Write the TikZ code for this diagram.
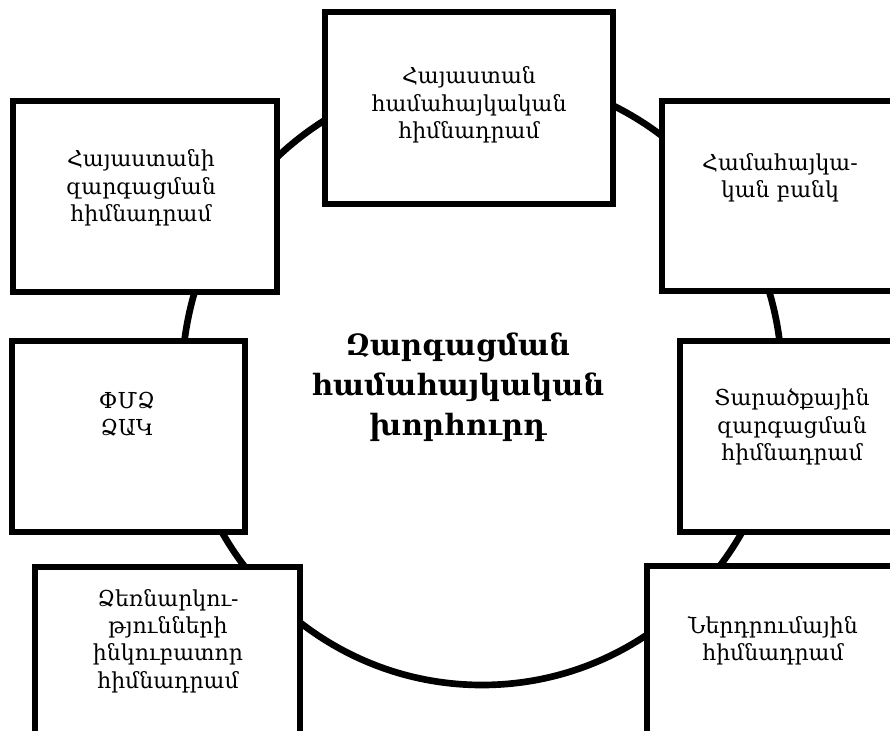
\documentclass[tikz,border=0pt]{standalone}
\usepackage{fontspec}
\setmainfont{DejaVu Serif}

\tikzset{
    box/.style={draw, line width=4.5pt, fill=white, inner sep=0pt},
    boxsize/.style 2 args={minimum width=#1*0.75pt, minimum height=#2*0.75pt},
    txt/.style={align=center, inner sep=0pt, font=\fontsize{16.5}{20.5}\selectfont},
    ring/.style={line width=5pt}
}

\begin{document}
\begin{tikzpicture}[x=0.75pt,y=-0.75pt]
    \useasboundingbox (0,0) rectangle (890,731);
    % the ring behind the boxes
    \coordinate (ctr) at (482,380);
    \draw[ring] (ctr) ellipse[x radius=300, y radius=305];

    % boxes
    \node[box,boxsize={288}{192}] (fund)    at (469,108)   {};
    \node[box,boxsize={264}{191}] (devfund) at (145,196.5) {};
    \node[box,boxsize={238}{190}] (bank)    at (781,196)   {};
    \node[box,boxsize={233}{191}] (sme)     at (128.5,436.5) {};
    \node[box,boxsize={220}{191}] (region)  at (790,436.5) {};
    \node[box,boxsize={265}{173}] (incub)   at (167.5,653.5) {};
    \node[box,boxsize={253}{174}] (invest)  at (773.5,653) {};

    % texts
    \node[txt] (fund-t)    at (469,105) {Հայաստան\\համահայկական\\հիմնադրամ};
    \node[txt] (devfund-t) at (141,188) {Հայաստանի\\զարգացման\\հիմնադրամ};
    \node[txt] (bank-t)    at (780,178) {Համահայկա-\\կան բանկ};
    \node[txt] (sme-t)     at (127,414) {ՓՄՁ\\ՁԱԿ};
    \node[txt] (region-t)  at (792,427) {Տարածքային\\զարգացման\\հիմնադրամ};
    \node[txt] (incub-t)   at (168,641) {Ձեռնարկու-\\թյունների\\ինկուբատոր\\հիմնադրամ};
    \node[txt] (invest-t)  at (773,641) {Ներդրումային\\հիմնադրամ};
    \node[txt,font=\bfseries\fontsize{22}{30}\selectfont] (council) at (458,387)
        {Զարգացման\\համահայկական\\խորհուրդ};
\end{tikzpicture}
\end{document}
